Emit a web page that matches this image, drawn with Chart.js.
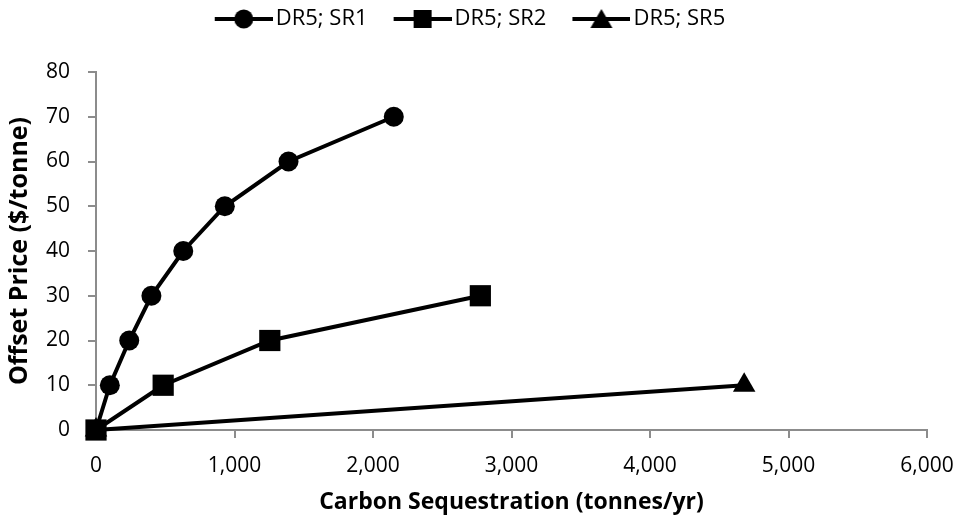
<!DOCTYPE html>
<html>
<head>
<meta charset="utf-8">
<script src="https://cdn.jsdelivr.net/npm/chart.js@4"></script>
<style>
  html, body { margin: 0; padding: 0; background: #fff; }
  #wrap { width: 963px; height: 523px; }
</style>
</head>
<body>
<div id="wrap"><canvas id="seqChart" width="963" height="523"></canvas></div>
<script>
// sequestration (tonnes/yr) vs offset price ($/tonne)
const sr1X = [0, 100, 240, 400, 630, 930, 1390, 2150];
const sr1Y = [0, 10, 20, 30, 40, 50, 60, 70];
const sr2X = [0, 485, 1255, 2775];
const sr2Y = [0, 10, 20, 30];
const sr5X = [0, 4680];
const sr5Y = [0, 10];
const seriesNames = ['DR5; SR1', 'DR5; SR2', 'DR5; SR5'];

const toPoints = (xs, ys) => xs.map((x, i) => ({ x: x, y: ys[i] }));

// legend swatch: short line with the marker on top.
// blank lead-in on the left spaces the items; the extra on the right
// pulls the line close to the label text.
const SW_W = 68, SW_GAP = 18, SW_OVER = 8;
function swatch(style) {
    const c = document.createElement('canvas');
    c.width = SW_W + SW_OVER * 2; c.height = 24;
    const g = c.getContext('2d');
    const x0 = SW_GAP + SW_OVER, x1 = c.width, cx = (x0 + x1) / 2;
    g.strokeStyle = '#000';
    g.fillStyle = '#000';
    g.lineWidth = 4;
    g.beginPath();
    g.moveTo(x0, 12); g.lineTo(x1, 12);
    g.stroke();
    g.beginPath();
    if (style === 'circle') {
        g.arc(cx, 12, 9.5, 0, Math.PI * 2);
    } else if (style === 'rect') {
        g.rect(cx - 9, 3, 18, 18);
    } else {
        g.moveTo(cx, 2); g.lineTo(cx + 11, 21); g.lineTo(cx - 11, 21); g.closePath();
    }
    g.fill();
    return c;
}

const styles = ['circle', 'rect', 'triangle'];
const radii = [10, 15, 13];
// squares sit on top, then circles, triangles underneath
const drawOrder = [1, 0, 2];

const datasets = [toPoints(sr1X, sr1Y), toPoints(sr2X, sr2Y), toPoints(sr5X, sr5Y)].map((pts, i) => ({
    label: seriesNames[i],
    data: pts,
    order: drawOrder[i],
    clip: false,
    showLine: true,
    borderColor: '#000',
    backgroundColor: '#000',
    borderWidth: 4,
    pointStyle: styles[i],
    pointRadius: radii[i],
    pointBackgroundColor: '#000',
    pointBorderColor: '#000',
    pointBorderWidth: 0
}));

// extra room under the legend, and nudge it a little to the left
const legendGap = {
    id: 'legendGap',
    beforeInit(chart) {
        const fit = chart.legend.fit;
        chart.legend.fit = function () {
            fit.bind(chart.legend)();
            this.height += 32;
        };
    },
    afterLayout(chart) {
        chart.legend.left -= 6;
        chart.legend.right -= 6;
    }
};

const font = "'Open Sans', 'Noto Sans', sans-serif";
const ctx = document.getElementById('seqChart').getContext('2d');
new Chart(ctx, {
    type: 'scatter',
    data: { datasets: datasets },
    plugins: [legendGap],
    options: {
        responsive: false,
        animation: false,
        layout: { padding: { left: 0, right: 29, top: 0, bottom: 0 } },
        plugins: {
            legend: {
                display: true,
                position: 'top',
                labels: {
                    usePointStyle: true,
                    pointStyleWidth: SW_W,
                    padding: 8,
                    color: '#000',
                    font: { family: font, size: 22 },
                    generateLabels: chart => chart.data.datasets.map((ds, i) => ({
                        text: ds.label,
                        pointStyle: swatch(styles[i]),
                        fillStyle: '#000',
                        strokeStyle: '#000',
                        lineWidth: 0,
                        hidden: false,
                        datasetIndex: i,
                        fontColor: '#000'
                    }))
                }
            },
            tooltip: { enabled: false }
        },
        scales: {
            x: {
                type: 'linear',
                min: 0,
                max: 6000,
                afterFit: scale => { scale.height = 93; scale.paddingRight = 36; },
                border: { display: true, color: '#8c8c8c', width: 2 },
                grid: { drawOnChartArea: false, drawTicks: true, tickLength: 8, color: '#8c8c8c', lineWidth: 2 },
                ticks: {
                    stepSize: 1000,
                    color: '#000',
                    padding: 15,
                    font: { family: font, size: 21 },
                    callback: v => v.toLocaleString('en-US')
                },
                title: {
                    display: true,
                    text: 'Carbon Sequestration (tonnes/yr)',
                    color: '#000',
                    font: { family: font, size: 23, weight: 'bold' },
                    padding: { top: 0, bottom: 7 }
                }
            },
            y: {
                min: 0,
                max: 80,
                afterFit: scale => { scale.width = 96; },
                border: { display: true, color: '#8c8c8c', width: 2 },
                grid: { drawOnChartArea: false, drawTicks: true, tickLength: 8, color: '#8c8c8c', lineWidth: 2 },
                ticks: {
                    stepSize: 10,
                    color: '#000',
                    padding: 18,
                    font: { family: font, size: 21 }
                },
                title: {
                    display: true,
                    text: 'Offset Price ($/tonne)',
                    color: '#000',
                    font: { family: font, size: 25, weight: 'bold' },
                    padding: { top: 5, bottom: 0 }
                }
            }
        }
    }
});
</script>
</body>
</html>
